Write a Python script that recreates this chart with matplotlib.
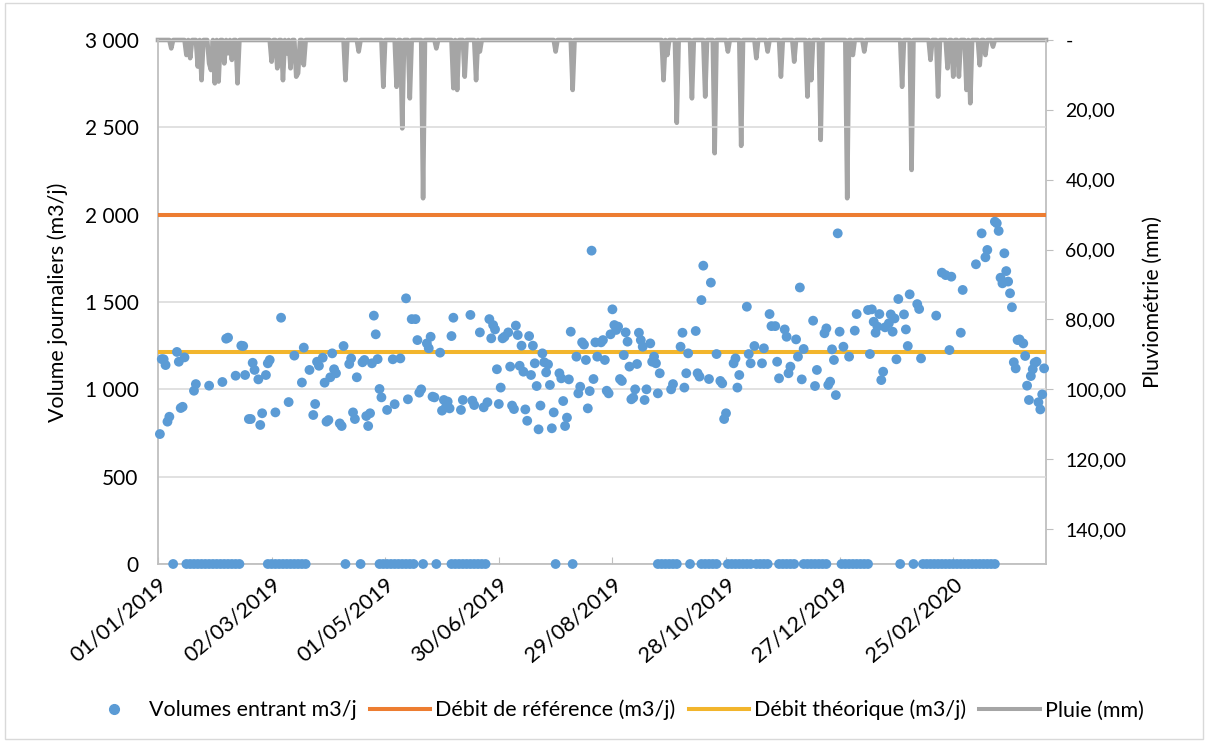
import numpy as np
import matplotlib
matplotlib.use("Agg")
import matplotlib.pyplot as plt
import matplotlib.dates as mdates
from matplotlib.ticker import FuncFormatter, MultipleLocator
from matplotlib.lines import Line2D
from matplotlib.patches import Rectangle

plt.rcParams['font.family'] = ['Lato', 'DejaVu Sans']

START = np.datetime64('2019-01-01')
N_DAYS = 469

# daily inflow volumes (m3/j), day offset from 01/01/2019
vol_days = [1, 2, 3, 4, 5, 6, 10, 11, 12, 13, 14, 19, 20, 27, 34, 36, 37, 41, 44, 45,
            46, 48, 49, 50, 51, 53, 54, 55, 57, 58, 59, 62, 65, 69, 72, 76, 77, 80, 82, 83,
            84, 85, 87, 88, 89, 90, 91, 92, 93, 94, 96, 97, 98, 101, 102, 103, 104, 105, 108, 109,
            110, 111, 112, 113, 114, 115, 116, 117, 118, 121, 124, 125, 128, 131, 132, 134, 136, 137, 138, 139,
            142, 143, 144, 145, 146, 149, 150, 151, 152, 153, 154, 155, 156, 160, 161, 165, 166, 167, 170, 172,
            174, 175, 176, 177, 178, 179, 180, 181, 182, 183, 185, 186, 187, 188, 189, 190, 191, 192, 193, 194,
            195, 196, 197, 198, 199, 200, 201, 202, 203, 204, 205, 206, 207, 208, 209, 212, 213, 214, 215, 216,
            217, 218, 221, 222, 223, 224, 225, 226, 227, 228, 229, 230, 231, 232, 234, 235, 236, 237, 238, 239,
            240, 241, 242, 243, 244, 245, 246, 247, 248, 249, 250, 251, 252, 253, 254, 255, 256, 257, 258, 260,
            261, 262, 263, 264, 265, 271, 272, 276, 277, 278, 279, 280, 284, 285, 286, 287, 288, 291, 292, 295,
            297, 298, 299, 300, 304, 305, 306, 307, 311, 312, 313, 315, 319, 320, 323, 324, 326, 327, 328, 331,
            332, 333, 334, 337, 338, 339, 340, 341, 346, 347, 348, 352, 353, 354, 355, 356, 357, 358, 359, 360,
            362, 365, 368, 369, 375, 376, 377, 378, 379, 380, 381, 382, 383, 384, 386, 387, 388, 389, 390, 391,
            394, 395, 396, 397, 401, 402, 403, 411, 414, 416, 418, 419, 424, 425, 432, 435, 437, 438, 442, 443,
            444, 445, 446, 447, 448, 449, 450, 451, 452, 453, 454, 455, 457, 458, 459, 460, 461, 462, 463, 464,
            465, 466, 467, 468]
vol_vals = [744, 1173, 1172, 1139, 815, 843, 1214, 1158, 893, 900, 1183, 992, 1030, 1021, 1042, 1290, 1296, 1078, 1250, 1248,
            1082, 830, 830, 1152, 1111, 1057, 796, 863, 1082, 1149, 1168, 868, 1410, 927, 1193, 1039, 1239, 1111, 853, 916,
            1158, 1135, 1181, 1038, 815, 824, 1069, 1206, 1115, 1092, 805, 790, 1248, 1145, 1177, 868, 830, 1069, 1155, 1168,
            847, 790, 863, 1149, 1422, 1315, 1173, 1002, 954, 882, 1172, 915, 1177, 1521, 943, 1402, 1402, 1282, 981, 1000,
            1263, 1235, 1301, 958, 954, 1210, 878, 939, 897, 930, 891, 1305, 1410, 882, 939, 1426, 935, 910, 1326, 897,
            926, 1402, 1292, 1368, 1343, 1115, 916, 1010, 1292, 1301, 1326, 1130, 907, 887, 1365, 1311, 1135, 1250, 1101, 885,
            820, 1305, 1082, 1250, 1149, 1019, 771, 907, 1206, 1155, 1097, 1143, 1025, 777, 868, 1092, 1063, 933, 790, 838,
            1057, 1330, 1187, 977, 1015, 1269, 1256, 1168, 891, 990, 1794, 1059, 1269, 1187, 1269, 1282, 1168, 992, 977, 1315,
            1458, 1368, 1340, 1359, 1059, 1048, 1196, 1326, 1273, 1130, 943, 952, 1000, 1145, 1324, 1282, 1244, 939, 1000, 1263,
            1158, 1187, 1149, 977, 1092, 1000, 1030, 1244, 1324, 1010, 1092, 1206, 1334, 1092, 1073, 1511, 1708, 1059, 1611, 1202,
            1048, 1034, 830, 863, 1149, 1177, 1010, 1082, 1473, 1202, 1149, 1248, 1149, 1235, 1431, 1362, 1362, 1158, 1063, 1343,
            1301, 1092, 1130, 1286, 1187, 1583, 1057, 1231, 1393, 1019, 1111, 1321, 1349, 1025, 1044, 1229, 1168, 967, 1893, 1330,
            1244, 1187, 1336, 1431, 1454, 1202, 1458, 1387, 1324, 1359, 1431, 1053, 1101, 1355, 1378, 1429, 1330, 1406, 1172, 1517,
            1429, 1343, 1248, 1544, 1488, 1460, 1177, 1422, 1668, 1654, 1225, 1645, 1324, 1569, 1716, 1893, 1756, 1798, 1960, 1951,
            1907, 1639, 1607, 1779, 1677, 1617, 1550, 1470, 1155, 1120, 1282, 1286, 1263, 1191, 1021, 939, 1076, 1115, 1152, 1158,
            926, 885, 971, 1120]

# runs of days recorded at 0 m3/j (first day, last day)
zero_runs = [(8, 8), (15, 44), (58, 79), (99, 99), (107, 107), (117, 135), (140, 140), (147, 147),
             (155, 173), (210, 210), (219, 219), (264, 275), (281, 281), (287, 296), (301, 313),
             (316, 323), (328, 337), (341, 354), (361, 376), (392, 392), (399, 399), (404, 443)]

# rainfall events (day offset, mm)
rain_days = [7, 15, 17, 21, 23, 27, 28, 30, 32, 35, 37, 39, 42, 60, 63, 66, 68, 70, 73, 74,
             77, 99, 106, 119, 126, 129, 133, 140, 147, 156, 158, 162, 168, 170, 210, 219, 267, 269, 274, 282,
             289, 294, 301, 308, 316, 322, 329, 336, 343, 345, 350, 364, 367, 373, 393, 398, 408, 412, 417, 420,
             423, 427, 429, 434, 437, 441]
rain_mm = [2.4, 4.3, 5.2, 7.6, 11.5, 6.7, 8.6, 12.4, 11.9, 6.7, 3.8, 5.7, 12.4, 6.2, 8.1, 11.5, 3.8, 8.1, 10.5, 9.5,
           7.2, 11.5, 3.3, 13.4, 13.4, 25.3, 16.7, 45.3, 2.4, 13.8, 14.3, 10.5, 11.5, 3.3, 3.3, 14.3, 11.5, 4.3, 23.7, 16.7,
           16.2, 32.4, 3.3, 30.3, 5.2, 3.3, 10.5, 6.2, 16.2, 11.5, 28.6, 45.3, 4.3, 3.3, 13.4, 37.2, 5.7, 16.2, 8.1, 10.5,
           10.5, 14.3, 18.1, 7.2, 4.3, 1.9]

DEBIT_REF = 2000
DEBIT_THEO = 1215

labels = ["Volumes entrant m3/j", "Débit de référence (m3/j)", "Débit théorique (m3/j)", "Pluie (mm)"]
c_pts, c_ref, c_theo, c_rain = "#5B9BD5", "#ED7D31", "#F2B52C", "#A5A5A5"
c_axis, c_grid = "#BFBFBF", "#D9D9D9"

# build series
zero_days = [d for a, b in zero_runs for d in range(a, b + 1, 2)]
all_days = np.arange(N_DAYS + 1)
rain = np.zeros(len(all_days))
rain[rain_days] = rain_mm

to_date = lambda d: START + np.array(d, dtype='timedelta64[D]')

fig = plt.figure(figsize=(12.08, 7.42), dpi=100)
ax = fig.add_axes([158 / 1208, 1 - 564 / 742, (1046 - 158) / 1208, (564 - 40) / 742])
ax2 = ax.twinx()

ax.set_zorder(2)
ax.patch.set_visible(False)

for v in range(0, 3001, 500):
    ax.axhline(v, color=c_grid, lw=1.1, zorder=0)
ax.axhline(DEBIT_REF, color=c_ref, lw=2.9, zorder=3)
ax.axhline(DEBIT_THEO, color=c_theo, lw=2.9, zorder=3)
ax.scatter(to_date(vol_days), vol_vals, s=50, color=c_pts, edgecolors='none', zorder=4, clip_on=False)
ax.scatter(to_date(zero_days), np.zeros(len(zero_days)), s=50, color=c_pts, edgecolors='none',
           zorder=4, clip_on=False)

ax2.plot(to_date(all_days), rain, color=c_rain, lw=3.3, solid_joinstyle='round', clip_on=False, zorder=2)

ax.set_xlim(START, to_date(N_DAYS))
ax.set_ylim(0, 3000)
ax2.set_ylim(150, 0)

ticks = [to_date(d) for d in range(0, N_DAYS, 60)]
ax.set_xticks(ticks)
ax.xaxis.set_major_formatter(mdates.DateFormatter('%d/%m/%Y'))
for lab in ax.get_xticklabels():
    lab.set_rotation(40)
    lab.set_ha('right')
    lab.set_rotation_mode('anchor')

ax.yaxis.set_major_locator(MultipleLocator(500))
ax.yaxis.set_major_formatter(FuncFormatter(lambda v, p: f"{int(v):,}".replace(",", " ")))
ax2.yaxis.set_major_locator(MultipleLocator(20))
ax2.yaxis.set_major_formatter(FuncFormatter(lambda v, p: "-" if v == 0 else f"{v:.2f}".replace(".", ",")))

ax.tick_params(axis='y', length=0, labelsize=15, pad=14)
ax.tick_params(axis='x', direction='in', length=5, color=c_axis, labelsize=15.5, pad=7)
ax2.tick_params(axis='y', direction='out', length=5, color=c_axis, labelsize=14, pad=9)

for a in (ax, ax2):
    a.spines['top'].set_visible(False)
    for s in ('left', 'right', 'bottom'):
        a.spines[s].set_color(c_axis)
        a.spines[s].set_linewidth(1.3)
ax.spines['right'].set_visible(False)
ax2.spines['left'].set_visible(False)
ax2.spines['bottom'].set_visible(False)

ax.set_ylabel("Volume journaliers (m3/j)", fontsize=15.5, labelpad=12)
ax2.set_ylabel("Pluviométrie (mm)", fontsize=15.5, labelpad=12)

handles = [Line2D([], [], marker='o', ls='none', color=c_pts, markersize=7),
           Line2D([], [], color=c_ref, lw=2.9),
           Line2D([], [], color=c_theo, lw=2.9),
           Line2D([], [], color=c_rain, lw=2.9)]
fig.legend(handles, labels, loc='center', bbox_to_anchor=(0.508, 0.043), ncol=4, frameon=False,
           fontsize=15.5, handlelength=2.8, handletextpad=0.25, columnspacing=0.6)

fig.patches.append(Rectangle((0.004, 0.004), 0.992, 0.992, transform=fig.transFigure,
                             fill=False, edgecolor="#D9D9D9", lw=1))

fig.savefig("out.png", dpi=100)
